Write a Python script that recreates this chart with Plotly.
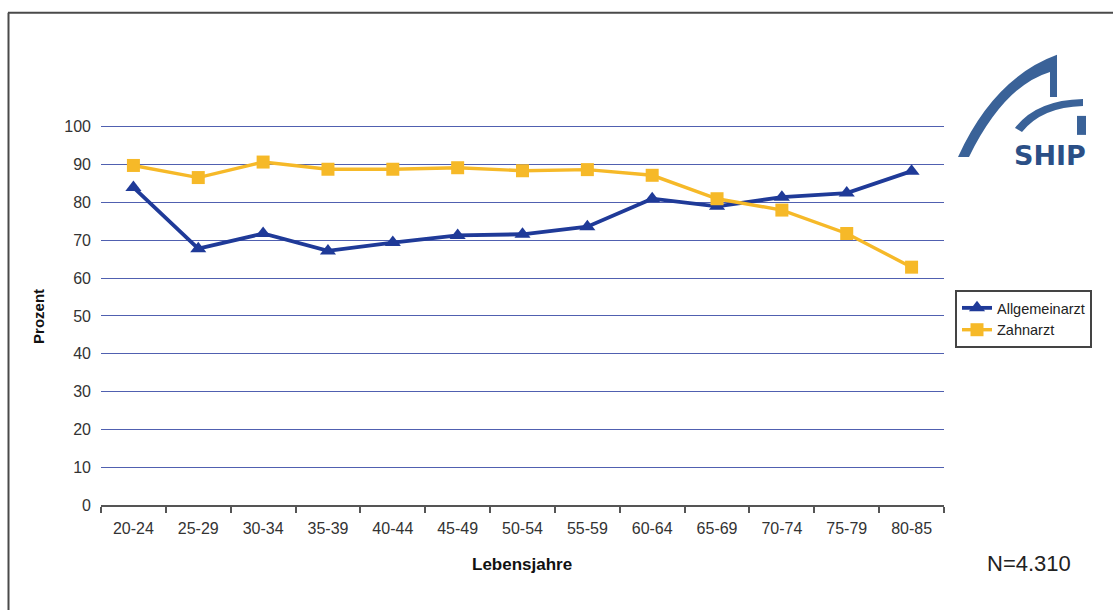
import plotly.graph_objects as go

# Age groups (x categories)
age_groups = ["20-24", "25-29", "30-34", "35-39", "40-44", "45-49", "50-54",
              "55-59", "60-64", "65-69", "70-74", "75-79", "80-85"]

# Share in percent per age group
allgemeinarzt = [84, 67.8, 71.8, 67.2, 69.4, 71.3, 71.6, 73.6, 81, 79, 81.4, 82.5, 88.3]
zahnarzt = [89.8, 86.6, 90.7, 88.8, 88.8, 89.2, 88.4, 88.7, 87.2, 81, 78, 71.8, 62.9]

y_ticks = [0, 10, 20, 30, 40, 50, 60, 70, 80, 90, 100]
Y_MAX = 100.5

W, H = 1113, 610
L, R, B = 101, 944, 505            # plot area edges in pixels
T = B - 378 * Y_MAX / 100          # top edge so that 100 sits at y=127

BLUE = "#1f3a98"
GOLD = "#f6b928"
LOGO = "#3a6298"
FONT = "Liberation Sans, Arial, sans-serif"


def pxx(x):
    return (x - L) / (R - L)


def pxy(y):
    return (B - y) / (B - T)


def path(cmds):
    """Build an SVG path in paper coordinates from pixel-space commands."""
    out = []
    for c in cmds:
        if isinstance(c, str):
            out.append(c)
        else:
            out.append(f"{pxx(c[0]):.5f},{pxy(c[1]):.5f}")
    return " ".join(out)


fig = go.Figure()
fig.add_trace(go.Scatter(
    x=age_groups, y=allgemeinarzt, name="Allgemeinarzt", mode="lines+markers",
    line=dict(color=BLUE, width=3.8),
    marker=dict(symbol="triangle-up", size=14, color=BLUE),
))
fig.add_trace(go.Scatter(
    x=age_groups, y=zahnarzt, name="Zahnarzt", mode="lines+markers",
    line=dict(color=GOLD, width=3.4),
    marker=dict(symbol="square", size=13, color=GOLD),
))

shapes = [
    # outer frame (top and left edges)
    dict(type="line", xref="paper", yref="paper", x0=pxx(8), x1=pxx(1120),
         y0=pxy(13), y1=pxy(13), line=dict(color="#4a4a4a", width=2)),
    dict(type="line", xref="paper", yref="paper", x0=pxx(8.5), x1=pxx(8.5),
         y0=pxy(13), y1=pxy(620), line=dict(color="#4a4a4a", width=2)),
    # logo: large arc ending in a short vertical bar
    dict(type="path", xref="paper", yref="paper", fillcolor=LOGO, line=dict(width=0),
         path=path(["M", (958, 157), "Q", (994, 78), (1057, 55),
                    "L", (1057, 97), "L", (1050, 97), "L", (1050, 72),
                    "Q", (1004, 86), (969, 157), "Z"])),
    # logo: small arc
    dict(type="path", xref="paper", yref="paper", fillcolor=LOGO, line=dict(width=0),
         path=path(["M", (1015, 128), "Q", (1036, 100), (1083, 99),
                    "L", (1083, 106), "Q", (1042, 107), (1022, 132), "Z"])),
    # logo: small block
    dict(type="rect", xref="paper", yref="paper", fillcolor=LOGO, line=dict(width=0),
         x0=pxx(1077), x1=pxx(1086), y0=pxy(135), y1=pxy(116)),
]

annotations = [
    dict(text="<b>SHIP</b>", x=pxx(1050), y=pxy(156), xref="paper", yref="paper",
         showarrow=False, xanchor="center", yanchor="middle",
         font=dict(family="DejaVu Sans, sans-serif", size=27, color="#2b4f86")),
    dict(text="<b>Prozent</b>", x=pxx(39), y=pxy(317), xref="paper", yref="paper",
         showarrow=False, textangle=-90, xanchor="center", yanchor="middle",
         font=dict(family=FONT, size=15, color="#111")),
    dict(text="<b>Lebensjahre</b>", x=pxx(522), y=pxy(564), xref="paper", yref="paper",
         showarrow=False, xanchor="center", yanchor="middle",
         font=dict(family=FONT, size=17, color="#111")),
    dict(text="N=4.310", x=pxx(1029), y=pxy(563), xref="paper", yref="paper",
         showarrow=False, xanchor="center", yanchor="middle",
         font=dict(family=FONT, size=22, color="#222")),
]

fig.update_layout(
    width=W, height=H,
    margin=dict(l=L, r=W - R, t=T, b=H - B, pad=0),
    paper_bgcolor="white", plot_bgcolor="white",
    font=dict(family=FONT, size=16, color="#333"),
    showlegend=True,
    legend=dict(x=pxx(955), y=pxy(290), xanchor="left", yanchor="top",
                bordercolor="#444", borderwidth=2, bgcolor="white",
                font=dict(family=FONT, size=14.5, color="#222"),
                itemwidth=30, tracegroupgap=0),
    shapes=shapes,
    annotations=annotations,
)

fig.update_xaxes(
    type="category", range=[-0.5, len(age_groups) - 0.5],
    showgrid=False, zeroline=False,
    showline=True, linecolor="#555", linewidth=1.5,
    ticks="outside", ticklen=6, tickcolor="#555", tickwidth=1.5,
    tickson="boundaries", ticklabelstandoff=8,
    tickfont=dict(size=16, color="#333"),
)
fig.update_yaxes(
    range=[0, Y_MAX], tickvals=y_ticks, showline=False, zeroline=False,
    showgrid=True, gridcolor="#5060b0", gridwidth=1.2,
    ticks="", ticklabelstandoff=9,
    tickfont=dict(size=16, color="#333"),
)

fig.write_html("out.html")
